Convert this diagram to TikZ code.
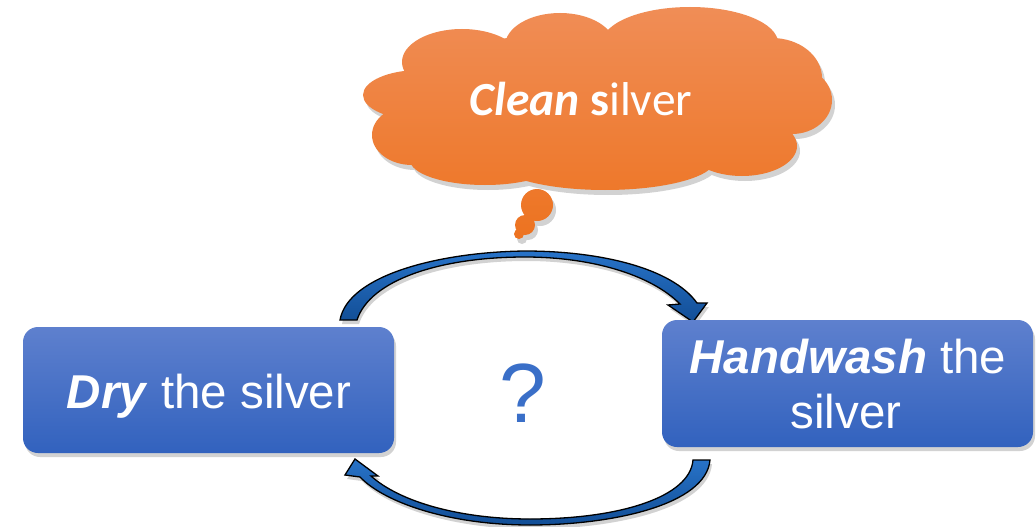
\documentclass[tikz,border=0pt]{standalone}
\usepackage{fontspec}
\setmainfont{Liberation Sans}
\newfontfamily\calib{Carlito}
\definecolor{boxtop}{RGB}{94,128,206}
\definecolor{boxbot}{RGB}{50,98,190}
\definecolor{cloudtop}{RGB}{240,142,88}
\definecolor{cloudbot}{RGB}{237,114,30}
\definecolor{arrtop}{RGB}{40,115,200}
\definecolor{arrbot}{RGB}{18,78,150}
\definecolor{qcol}{RGB}{58,111,200}
\definecolor{shadowc}{RGB}{210,210,210}
\newcommand\mycloudshape{
 (600,100) ellipse [x radius=200,y radius=70]
 (420,95) ellipse [x radius=57,y radius=25]
 (412,135) ellipse [x radius=40,y radius=30]
 (462,62) ellipse [x radius=60,y radius=33]
 (560,46) ellipse [x radius=55,y radius=33]
 (690,43) ellipse [x radius=88,y radius=36]
 (772,78) ellipse [x radius=50,y radius=40]
 (792,100) ellipse [x radius=40,y radius=34]
 (742,146) ellipse [x radius=55,y radius=30]
 (605,160) ellipse [x radius=110,y radius=30]
 (485,160) ellipse [x radius=75,y radius=25]
 (537,205) circle [radius=16]
 (525,225) circle [radius=10]
 (519,234) circle [radius=5]
}
\newcommand\mytoparrow{
 (340,320) .. controls (348,275) and (440,252) .. (525,251)
 .. controls (600,251) and (672,268) .. (697,303)
 -- (707,303) -- (693,322) -- (668,305) -- (680,304)
 .. controls (650,274) and (590,257) .. (525,257)
 .. controls (440,257) and (370,280) .. (357,320) -- cycle
}
\newcommand\mybotarrow{
 (710,460) .. controls (706,505) and (612,525) .. (530,525)
 .. controls (450,525) and (385,503) .. (360,477)
 -- (345,475) -- (355,459) -- (378,476) -- (371,476)
 .. controls (400,502) and (460,519) .. (530,519)
 .. controls (620,519) and (690,497) .. (693,460) -- cycle
}
\tikzset{
 bluebox/.style={rounded corners=15pt, top color=boxtop, bottom color=boxbot, draw=none, inner sep=0pt},
 boxshadow/.style={rounded corners=15pt, fill=shadowc, draw=none, inner sep=0pt},
 boxtext/.style={text=white, font=\fontsize{47.5}{55}\selectfont, inner sep=0pt, anchor=base},
 arrowshape/.style={top color=arrtop, bottom color=arrbot, draw=black, line width=1.3pt, line join=miter}
}
\begin{document}
\begin{tikzpicture}[x=1pt,y=-1pt]
\useasboundingbox (0,0) rectangle (1036,527);
\fill[white] (0,0) rectangle (1036,527);
% cloud shadow
\begin{scope}[shift={(3,5)}]
\fill[shadowc] \mycloudshape;
\end{scope}
% cloud
\begin{scope}
\clip \mycloudshape;
\shade[top color=cloudtop, bottom color=cloudbot] (355,0) rectangle (840,245);
\end{scope}
\node[font=\calib\fontsize{47.5}{55}\selectfont, text=white, inner sep=0pt, anchor=base] (clean) at (581,115) {\textbf{\textit{Clean} s}ilver};
% arrows
\begin{scope}[shift={(2,4)}]
\fill[shadowc] \mytoparrow;
\fill[shadowc] \mybotarrow;
\end{scope}
\shadedraw[arrowshape] \mytoparrow;
\shadedraw[arrowshape] \mybotarrow;
% boxes
\node[boxshadow, minimum width=371pt, minimum height=126pt] (dryshadow) at (210.5,394) {};
\node[bluebox, minimum width=371pt, minimum height=126pt] (dry) at (208.5,390) {};
\node[boxtext] (drytext) at (209,408) {\textbf{\textit{Dry}} the silver};
\node[boxshadow, minimum width=371pt, minimum height=127pt] (hwshadow) at (849.5,387.5) {};
\node[bluebox, minimum width=371pt, minimum height=127pt] (hw) at (847.5,383.5) {};
\node[boxtext] (hwtext1) at (848,373) {\textbf{\textit{Handwash}} the};
\node[boxtext] (hwtext2) at (846,428) {silver};
% question mark
\node[text=qcol, font=\fontsize{84}{90}\selectfont, inner sep=0pt, anchor=base] (q) at (523,422) {?};
\end{tikzpicture}
\end{document}
